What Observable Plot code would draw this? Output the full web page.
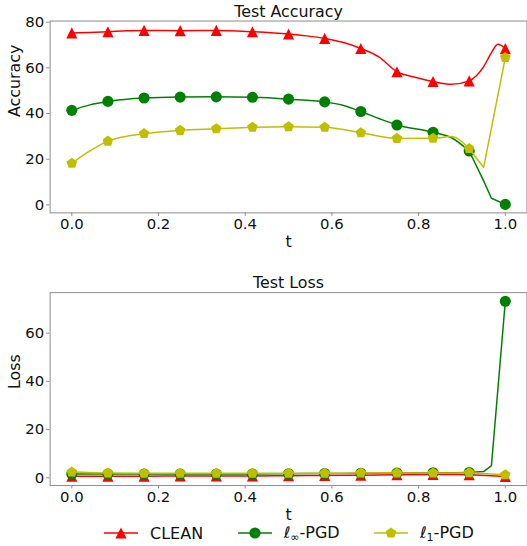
<!DOCTYPE html>
<html><head><meta charset="utf-8">
<script src="https://cdn.jsdelivr.net/npm/d3@7"></script>
<script src="https://cdn.jsdelivr.net/npm/@observablehq/plot@0.6"></script>
<style>
body{margin:0;background:#fff;font-family:"DejaVu Sans",sans-serif;}
#fig{position:relative;width:527px;height:546px;overflow:hidden;background:#fff;}
.panel{position:absolute;left:0;}
.leg{position:absolute;top:521px;height:24px;display:flex;align-items:center;font-size:16px;color:#111;white-space:nowrap;}
.leg svg{display:block;margin-right:12px;}
.leg sub{font-size:11px;vertical-align:-3px;}
</style></head><body><div id="fig"></div>
<script>
// ---- data ----
const tMarks = [0, 0.0833, 0.1667, 0.25, 0.3333, 0.4167, 0.5, 0.5833, 0.6667, 0.75, 0.8333, 0.9167, 1.0];
const seriesNames = ["CLEAN", "ℓ∞-PGD", "ℓ1-PGD"];
const seriesColors = ["#ff0000", "#008000", "#bfbf00"];

// Test accuracy at the marker positions
const accClean = [75.3, 75.8, 76.4, 76.3, 76.4, 75.8, 74.8, 72.9, 68.5, 58.3, 54.0, 54.3, 68.4];
const accLinf  = [41.4, 45.3, 46.8, 47.2, 47.3, 47.1, 46.3, 45.1, 40.9, 35.0, 31.8, 23.6, 0.2];
const accL1    = [18.2, 27.9, 31.2, 32.6, 33.3, 34.0, 34.2, 34.0, 31.6, 29.1, 29.2, 24.7, 64.5];
// extra curve readings between markers (smooth part)
const accCleanT = [0.0417, 0.125, 0.5417, 0.625, 0.7083, 0.7917, 0.875, 0.95, 0.967, 0.983];
const accCleanV = [75.5, 76.2, 74.0, 71.2, 64.8, 55.9, 52.8, 60.5, 66.3, 70.3];
const accLinfT  = [0.0417, 0.625, 0.7083, 0.875];
const accLinfV  = [43.8, 43.6, 37.8, 29.5];
const accL1T    = [0.0417, 0.125, 0.875];
const accL1V    = [23.6, 30.0, 29.9];
// readings of the straight end segments (after t = 0.9167)
const accLinfTailT = [0.95, 0.968];
const accLinfTailV = [10.5, 2.9];
const accL1TailT   = [0.95];
const accL1TailV   = [16.4];

// Test loss at the marker positions
const lossClean = [0.7, 0.7, 0.7, 0.8, 0.8, 0.8, 0.9, 1.0, 1.1, 1.3, 1.4, 1.3, 0.6];
const lossLinf  = [1.6, 1.6, 1.6, 1.6, 1.6, 1.6, 1.7, 1.8, 1.9, 2.0, 2.1, 2.2, 73.2];
const lossL1    = [2.4, 2.0, 1.9, 1.9, 1.9, 1.9, 1.9, 1.9, 2.0, 2.0, 2.0, 2.1, 1.3];
const lossCleanTailT = [0.968];
const lossCleanTailV = [0.9];
const lossLinfTailT  = [0.95, 0.968];
const lossLinfTailV  = [2.6, 5.1];
const lossL1TailT    = [0.968];
const lossL1TailV    = [1.6];

const xTicks = [0, 0.2, 0.4, 0.6, 0.8, 1.0];
const accTicks = [0, 20, 40, 60, 80];
const lossTicks = [0, 20, 40, 60];

// ---- marker symbols (matplotlib-like) ----
const triSym = {draw(ctx, size){ const r = Math.sqrt(size/Math.PI); ctx.moveTo(0,-r); ctx.lineTo(r,r); ctx.lineTo(-r,r); ctx.closePath(); }};
const pentSym = {draw(ctx, size){ const r = Math.sqrt(size/Math.PI);
  for (let i=0;i<5;i++){ const a=-Math.PI/2+i*2*Math.PI/5; const x=r*Math.cos(a), y=r*Math.sin(a); if(i) ctx.lineTo(x,y); else ctx.moveTo(x,y);} ctx.closePath(); }};
const circSym = {draw(ctx, size){ const r = Math.sqrt(size/Math.PI); ctx.moveTo(r,0); ctx.arc(0,0,r,0,2*Math.PI); }};
const symbols = [triSym, circSym, pentSym];

const SPLIT = 0.9167; // end of the smooth part when a straight tail follows
function pts(ts, vs){ return ts.map((t,i)=>({t, v: vs[i]})); }
function buildLine(vals, exT, exV, tailT, tailV){
  const all = pts(tMarks, vals);
  if (!tailT) {
    return {smooth: all.concat(pts(exT, exV)).sort((a,b)=>a.t-b.t), tail: []};
  }
  const smooth = all.filter(d => d.t <= SPLIT).concat(pts(exT, exV)).sort((a,b)=>a.t-b.t);
  const tail = all.filter(d => d.t >= SPLIT).concat(pts(tailT, tailV)).sort((a,b)=>a.t-b.t);
  return {smooth, tail};
}

function panel({series, yDomain, yTicks, title, ylabel, height, marginTop, marginBottom, xlabDy, titleDy}){
  const marks = [
    Plot.frame({stroke: "#8c8c8c", strokeWidth: 1}),
    Plot.axisX({ticks: xTicks, tickFormat: d3.format(".1f"), tickSize: 3.5, tickPadding: 2.5, stroke: "#8c8c8c", fill: "#111", label: null, fontSize: 15}),
    Plot.axisY({ticks: yTicks, tickFormat: d3.format("d"), tickSize: 3.5, tickPadding: 2.5, stroke: "#8c8c8c", fill: "#111", label: null, fontSize: 15}),
    Plot.text([title], {frameAnchor: "top", dy: titleDy, lineAnchor: "middle", fontSize: 16, fill: "#111"}),
    Plot.text([ylabel], {frameAnchor: "left", dx: -35.3, rotate: -90, lineAnchor: "middle", fontSize: 16, fill: "#111"}),
    Plot.text(["t"], {frameAnchor: "bottom", dy: xlabDy, lineAnchor: "middle", fontSize: 16, fill: "#111"})
  ];
  series.forEach((s, i) => {
    marks.push(Plot.line(s.line.smooth, {x: "t", y: "v", stroke: seriesColors[i], strokeWidth: 1.5, curve: "monotone-x"}));
    if (s.line.tail.length) marks.push(Plot.line(s.line.tail, {x: "t", y: "v", stroke: seriesColors[i], strokeWidth: 1.5, curve: "linear"}));
    marks.push(Plot.dot(s.marks, {x: "t", y: "v", fill: seriesColors[i], stroke: "none", r: 5.6, symbol: symbols[i]}));
  });
  return Plot.plot({
    width: 531, height, marginLeft: 50, marginRight: 0.5, marginTop, marginBottom,
    x: {domain: [-0.05, 1.05]}, y: {domain: yDomain},
    style: {fontFamily: "DejaVu Sans", fontSize: "15px", background: "transparent", overflow: "visible"},
    marks
  });
}

const fig = document.getElementById("fig");
const p1 = panel({
  series: [
    {line: buildLine(accClean, accCleanT, accCleanV), marks: pts(tMarks, accClean)},
    {line: buildLine(accLinf, accLinfT, accLinfV, accLinfTailT, accLinfTailV), marks: pts(tMarks, accLinf)},
    {line: buildLine(accL1, accL1T, accL1V, accL1TailT, accL1TailV), marks: pts(tMarks, accL1)}
  ],
  yDomain: [-3.5, 80.5], yTicks: accTicks, title: "Test Accuracy", ylabel: "Accuracy",
  height: 270, marginTop: 20.7, marginBottom: 56, xlabDy: 28.8, titleDy: -9.4
});
p1.classList.add("panel"); p1.style.top = "0px";
fig.appendChild(p1);

const p2 = panel({
  series: [
    {line: buildLine(lossClean, [], [], lossCleanTailT, lossCleanTailV), marks: pts(tMarks, lossClean)},
    {line: buildLine(lossLinf, [], [], lossLinfTailT, lossLinfTailV), marks: pts(tMarks, lossLinf)},
    {line: buildLine(lossL1, [], [], lossL1TailT, lossL1TailV), marks: pts(tMarks, lossL1)}
  ],
  yDomain: [-3.2, 76.8], yTicks: lossTicks, title: "Test Loss", ylabel: "Loss",
  height: 276, marginTop: 22.3, marginBottom: 59.3, xlabDy: 29.8, titleDy: -9.3
});
p2.classList.add("panel"); p2.style.top = "270px";
fig.appendChild(p2);

// ---- legend ----
const legX = [104, 237.7, 374];
const legLabels = ["CLEAN", "ℓ<sub>∞</sub>-PGD", "ℓ<sub>1</sub>-PGD"];
const legShapes = [
  c => `<polygon points="17,1.4 22.6,12.6 11.4,12.6" fill="${c}"/>`,
  c => `<circle cx="17" cy="7" r="5.6" fill="${c}"/>`,
  c => { const p=[]; for(let i=0;i<5;i++){const a=-Math.PI/2+i*2*Math.PI/5; p.push((17+5.6*Math.cos(a)).toFixed(2)+","+(7+5.6*Math.sin(a)).toFixed(2));} return `<polygon points="${p.join(" ")}" fill="${c}"/>`; }
];
seriesNames.forEach((n, i) => {
  const d = document.createElement("div");
  d.className = "leg";
  d.style.left = legX[i] + "px";
  d.innerHTML = `<svg width="34" height="14"><line x1="0" y1="7" x2="34" y2="7" stroke="${seriesColors[i]}" stroke-width="1.5"/>${legShapes[i](seriesColors[i])}</svg><span>${legLabels[i]}</span>`;
  fig.appendChild(d);
});
</script></body></html>
